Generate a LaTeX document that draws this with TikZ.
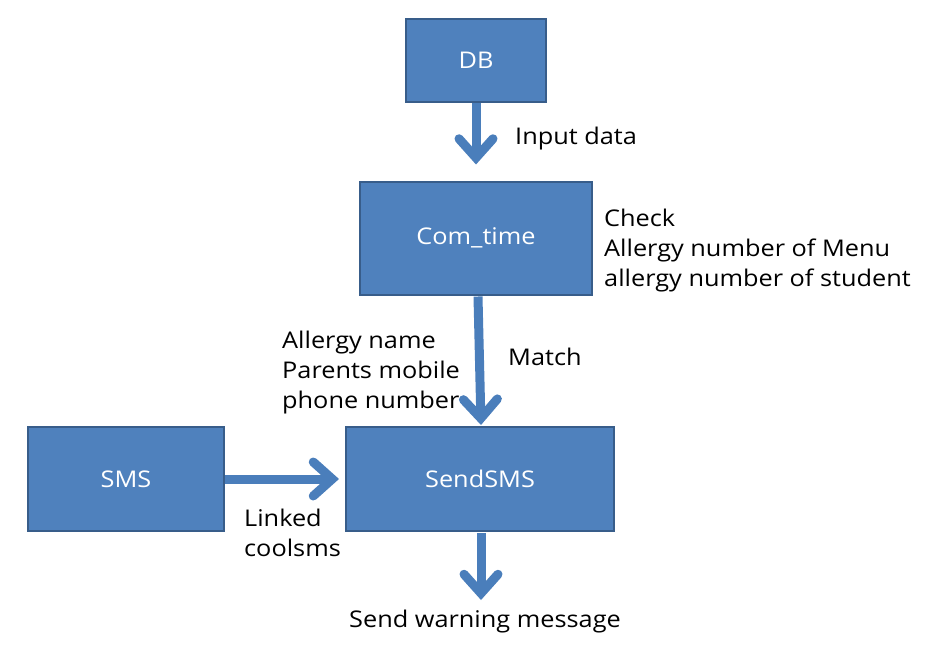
\documentclass[tikz,border=0pt]{standalone}
\usepackage{fontspec}
\setmainfont{Open Sans}[FakeStretch=1.1]
\usetikzlibrary{arrows.meta,calc}
\definecolor{boxfill}{HTML}{4F81BD}
\definecolor{boxline}{HTML}{385D8A}
\definecolor{arrcol}{HTML}{4A7EBB}
\tikzset{
  blk/.style={draw=boxline, line width=2pt, fill=boxfill, text=white, inner sep=0pt, font=\fontsize{23}{30}\selectfont},
  lbl/.style={inner sep=0pt, align=left, anchor=west, font=\fontsize{23}{30}\selectfont},
  arr/.style={draw=arrcol, line width=9pt, -{Straight Barb[length=19pt,width=34pt,line cap=round,line join=miter]}},
}
\begin{document}
\begin{tikzpicture}[x=1pt,y=-1pt]
\useasboundingbox (0,0) rectangle (937,651);
\node[blk, minimum width=140pt, minimum height=83pt] (db) at (476,60) {DB};
\node[blk, minimum width=232pt, minimum height=113pt] (com) at (476,238) {Com\_time};
\node[blk, minimum width=268pt, minimum height=104pt] (send) at (480,479) {SendSMS};
\node[blk, minimum width=196pt, minimum height=104pt] (sms) at (126,479) {SMS};
\coordinate (out) at (481,600);

\draw[arr, shorten >=16pt] (db) -- (com);
\draw[arr] ($(com.south)+(2,1)$) -- ($(send.north)+(1,-1)$);
\draw[arr, shorten >=6pt] (sms) -- (send);
\draw[arr] ($(send.south)+(1,1)$) -- (out);

\node[lbl] (t1) at (515,139) {Input data};
\node[lbl] (t2) at (604,251) {Check\\Allergy number of Menu\\allergy number of student};
\node[lbl] (t3) at (282,373) {Allergy name\\Parents mobile\\phone number};
\node[lbl] (t4) at (508,357) {Match};
\node[lbl] (t5) at (244,533) {Linked\\coolsms};
\node[inner sep=0pt, font=\fontsize{23}{30}\selectfont] (t6) at (485,622) {Send warning message};
\end{tikzpicture}
\end{document}
